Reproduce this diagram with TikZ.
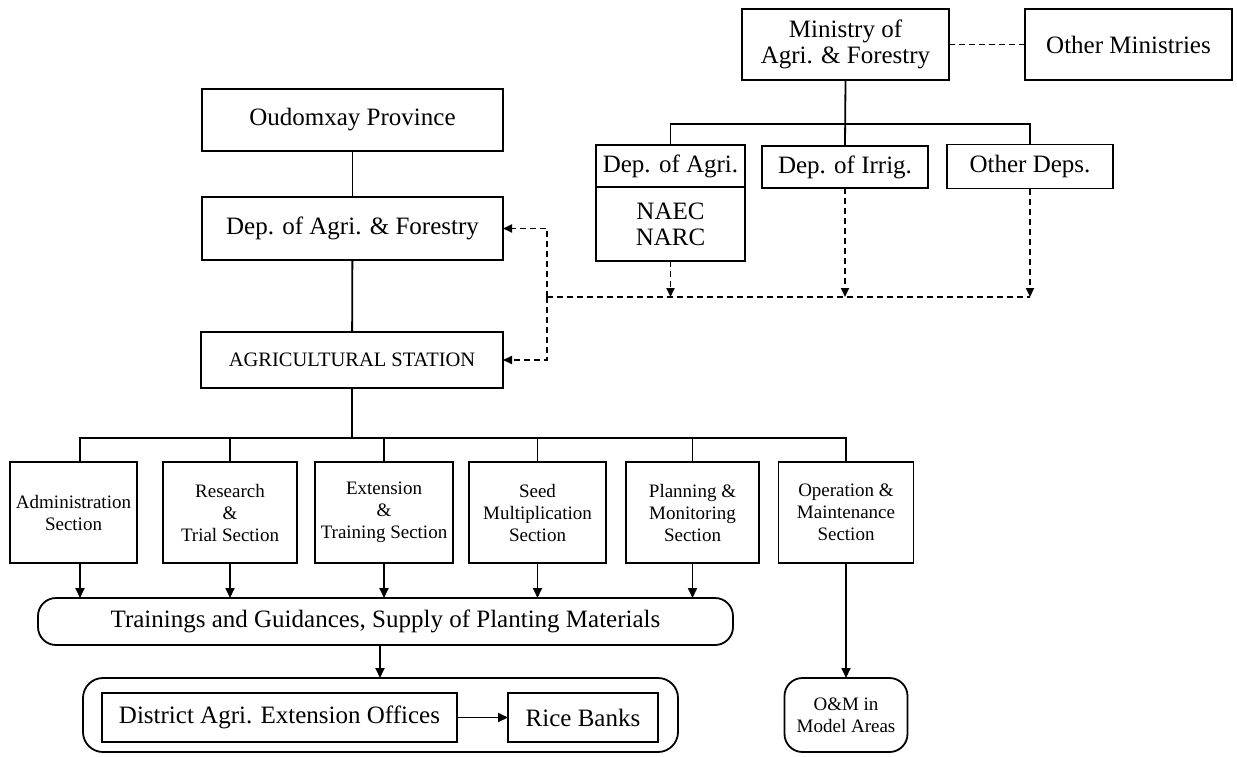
\documentclass[tikz,border=0pt]{standalone}
\usepackage{fontspec}
\setmainfont{Liberation Serif}
\usetikzlibrary{arrows.meta}
\begin{document}
\begin{tikzpicture}[x=1pt,y=-1pt,
 box/.style={draw, line width=1.8pt, inner sep=0pt, outer sep=0pt, align=center},
 big/.style={font=\fontsize{25}{26}\selectfont},
 small/.style={font=\fontsize{19}{22}\selectfont},
 ln/.style={line width=1.8pt},
 arr/.style={line width=1.8pt, -{Triangle[length=10pt,width=9pt]}},
 dsh/.style={line width=1.8pt, dash pattern=on 6pt off 4pt},
 darr/.style={line width=1.8pt, dash pattern=on 6pt off 4pt, -{Triangle[length=9pt,width=8pt]}},
]
\useasboundingbox (0,0) rectangle (1237,757);

% top right
\node[box,big,minimum width=207,minimum height=71] (min) at (845.5,44.5) {Ministry of\\Agri. \& Forestry};
\node[box,big,minimum width=207,minimum height=71] (om) at (1128.5,44.5) {Other Ministries};
\draw[dsh] (min.east) -- (om.west);

\node[box,big,minimum width=149,minimum height=42] (da) at (670.5,166) {Dep. of Agri.};
\node[box,big,minimum width=149,minimum height=74,anchor=north] (dan) at (da.south) {NAEC\\NARC};
\node[box,big,minimum width=166,minimum height=42] (irr) at (845,167) {Dep. of Irrig.};
\node[box,big,minimum width=166,minimum height=44] (oth) at (1030,166.5) {Other Deps.};

\coordinate (mb) at (845,124);
\draw[ln] (min.south) -- (irr.north);
\draw[ln] (da.north) -- (da.north |- mb) -- (oth.north |- mb) -- (oth.north);

% left column
\node[box,big,minimum width=301,minimum height=62] (oud) at (352.5,120) {Oudomxay Province};
\node[box,big,minimum width=301,minimum height=63] (daf) at (352.5,228.5) {Dep. of Agri. \& Forestry};
\node[box,font=\fontsize{20.5}{22}\selectfont,minimum width=302,minimum height=56] (sta) at (352,360) {AGRICULTURAL STATION};
\draw[ln] (oud) -- (daf);
\draw[ln] (daf) -- (sta);

% dashed links
\coordinate (dl) at (547,297);
\draw[darr] (dan.south) -- (dan.south |- dl);
\draw[darr] (irr.south) -- (irr.south |- dl);
\draw[darr] (oth.south) -- (oth.south |- dl);
\draw[dsh] (dl) -- (oth.south |- dl);
\draw[darr] (dl) -- (dl |- daf.east) -- (daf.east);
\draw[darr] (dl) -- (dl |- sta.east) -- (sta.east);

% sections
\coordinate (sb) at (352,438);
\node[box,small,minimum width=127,minimum height=101] (s1) at (73.5,512.5) {Administration\\Section};
\node[box,small,minimum width=134,minimum height=101] (s2) at (230,512.5) {Research\\\&\\Trial Section};
\node[box,small,minimum width=138,minimum height=101] (s3) at (384,512.5) {Extension\\\&\\Training Section};
\node[box,small,minimum width=137,minimum height=101] (s4) at (537.5,512.5) {Seed\\Multiplication\\Section};
\node[box,small,minimum width=133,minimum height=101] (s5) at (692.5,512.5) {Planning \&\\Monitoring\\Section};
\node[box,small,minimum width=135,minimum height=101] (s6) at (846,512.5) {Operation \&\\Maintenance\\Section};

\coordinate (b1) at (80,438);
\draw[ln] (sta.south) -- (sb);
\draw[ln] (b1 |- s1.north) -- (b1) -- (s6.north |- sb) -- (s6.north);
\foreach \s in {s2,s3,s4,s5} \draw[ln] (\s.north |- sb) -- (\s.north);

% pill
\node[box,big,rounded corners=18pt,minimum width=695,minimum height=47] (pill) at (385.5,621.5) {Trainings and Guidances, Supply of Planting Materials};
\draw[arr] (b1 |- s1.south) -- (b1 |- pill.north);
\foreach \s in {s2,s3,s4,s5} \draw[arr] (\s.south) -- (\s.south |- pill.north);

% district group
\node[draw,line width=1.8pt,rounded corners=20pt,minimum width=595,minimum height=74,inner sep=0pt,outer sep=0pt] (dist) at (380.5,715) {};
\node[box,big,minimum width=355,minimum height=49] (dao) at (279.5,717.5) {District Agri. Extension Offices};
\node[box,big,minimum width=150,minimum height=49] (rb) at (583,717.5) {Rice Banks};
\coordinate (pc) at (380,0);
\draw[arr] (pc |- pill.south) -- (pc |- dist.north);
\draw[arr] (dao) -- (rb);

% O&M
\node[box,small,rounded corners=18pt,minimum width=123,minimum height=74] (omm) at (846,715) {O\&M in\\Model Areas};
\draw[arr] (s6.south) -- (omm.north);
\end{tikzpicture}
\end{document}
